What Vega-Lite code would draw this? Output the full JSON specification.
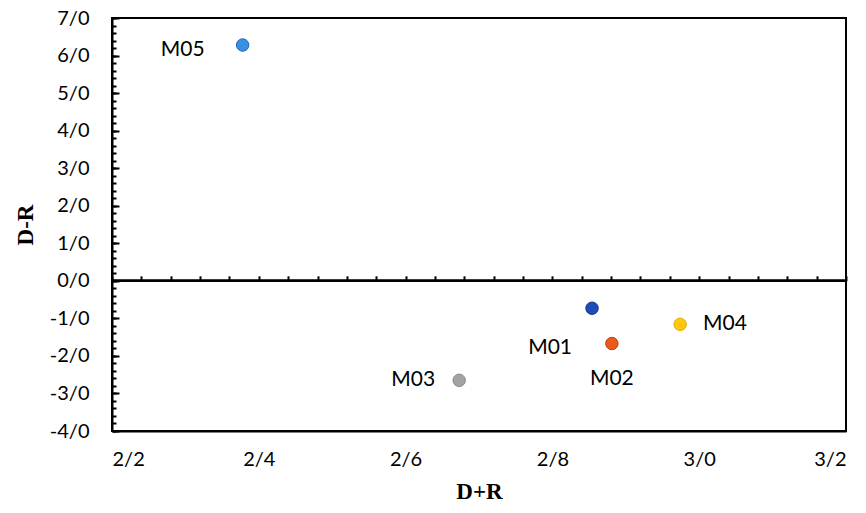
{
  "$schema": "https://vega.github.io/schema/vega-lite/v6.json",
  "width": 734,
  "height": 413,
  "autosize": {"type": "none"},
  "padding": {"left": 112, "top": 18, "right": 20, "bottom": 82},
  "background": "white",
  "data": {
    "values": [
      {"model": "M01", "dr_sum": 2.854, "dr_diff": -0.73},
      {"model": "M02", "dr_sum": 2.881, "dr_diff": -1.67},
      {"model": "M03", "dr_sum": 2.673, "dr_diff": -2.65},
      {"model": "M04", "dr_sum": 2.974, "dr_diff": -1.16},
      {"model": "M05", "dr_sum": 2.378, "dr_diff": 6.28}
    ]
  },
  "layer": [
    {
      "mark": {"type": "point", "filled": true, "size": 155, "opacity": 1, "strokeWidth": 1},
      "encoding": {
        "x": {
          "field": "dr_sum",
          "type": "quantitative",
          "scale": {"domain": [2.2, 3.2], "nice": false, "zero": false},
          "axis": {
            "orient": "bottom",
            "values": [2.2, 2.4, 2.6, 2.8, 3.0, 3.2],
            "labelExpr": "replace(format(datum.value, '.1f'), '.', '/')",
            "ticks": false,
            "grid": false,
            "domainColor": "black",
            "domainWidth": 2,
            "labelPadding": 18,
            "labelFont": "Lato",
            "labelFontSize": 20,
            "labelColor": "black",
            "title": "D+R",
            "titleFont": "Liberation Serif",
            "titleFontSize": 23,
            "titleFontWeight": "bold",
            "titleColor": "black",
            "titlePadding": 11
          }
        },
        "y": {
          "field": "dr_diff",
          "type": "quantitative",
          "scale": {"domain": [-4, 7], "nice": false, "zero": false},
          "axis": {
            "orient": "left",
            "values": [-4, -3, -2, -1, 0, 1, 2, 3, 4, 5, 6, 7],
            "labelExpr": "replace((datum.value < 0 ? '-' : '') + format(abs(datum.value), '.1f'), '.', '/')",
            "tickSize": -7,
            "tickWidth": 2,
            "tickColor": "black",
            "grid": false,
            "domainColor": "black",
            "domainWidth": 2,
            "labelPadding": 30,
            "labelFont": "Lato",
            "labelFontSize": 20,
            "labelColor": "black",
            "title": "D-R",
            "titleFont": "Liberation Serif",
            "titleFontSize": 23,
            "titleFontWeight": "bold",
            "titleColor": "black",
            "titlePadding": 12
          }
        },
        "color": {
          "field": "model",
          "type": "nominal",
          "scale": {"domain": ["M01", "M02", "M03", "M04", "M05"], "range": ["#1f4bb8", "#ea5a1c", "#a3a3a3", "#ffc80f", "#3a8fe0"]},
          "legend": null
        },
        "stroke": {
          "field": "model",
          "type": "nominal",
          "scale": {"domain": ["M01", "M02", "M03", "M04", "M05"], "range": ["#15338a", "#c0400e", "#888888", "#e8a800", "#1f66b8"]},
          "legend": null
        }
      }
    },
    {
      "mark": {"type": "rule", "color": "black", "strokeWidth": 2},
      "encoding": {
        "y": {
          "datum": 0,
          "type": "quantitative",
          "axis": {
            "orient": "left",
            "values": [-4, -3.8, -3.6, -3.4, -3.2, -3, -2.8, -2.6, -2.4, -2.2, -2, -1.8, -1.6, -1.4, -1.2, -1, -0.8, -0.6, -0.4, -0.2, 0, 0.2, 0.4, 0.6, 0.8, 1, 1.2, 1.4, 1.6, 1.8, 2, 2.2, 2.4, 2.6, 2.8, 3, 3.2, 3.4, 3.6, 3.8, 4, 4.2, 4.4, 4.6, 4.8, 5, 5.2, 5.4, 5.6, 5.8, 6, 6.2, 6.4, 6.6, 6.8, 7],
            "labels": false,
            "domain": false,
            "grid": false,
            "tickSize": -4,
            "tickWidth": 2,
            "tickColor": "black",
            "title": null
          }
        }
      }
    },
    {
      "transform": [{"filter": "datum.model == 'M05'"}],
      "mark": {"type": "text", "align": "right", "baseline": "middle", "dx": -38, "dy": 5, "font": "Lato", "fontSize": 21, "color": "black"},
      "encoding": {
        "x": {
          "field": "dr_sum",
          "type": "quantitative",
          "axis": {
            "orient": "top",
            "offset": {"expr": "-scale('y', 0)"},
            "values": [2.2, 2.24, 2.28, 2.32, 2.36, 2.4, 2.44, 2.48, 2.52, 2.56, 2.6, 2.64, 2.68, 2.72, 2.76, 2.8, 2.84, 2.88, 2.92, 2.96, 3.0, 3.04, 3.08, 3.12, 3.16, 3.2],
            "labels": false,
            "domain": false,
            "grid": false,
            "tickSize": 5,
            "tickWidth": 2,
            "tickColor": "black",
            "title": null
          }
        },
        "y": {"field": "dr_diff", "type": "quantitative", "axis": null},
        "text": {"field": "model"}
      }
    },
    {
      "transform": [{"filter": "datum.model == 'M03'"}],
      "mark": {"type": "text", "align": "right", "baseline": "middle", "dx": -24, "font": "Lato", "fontSize": 21, "color": "black"},
      "encoding": {
        "x": {"field": "dr_sum", "type": "quantitative", "axis": null},
        "y": {"field": "dr_diff", "type": "quantitative", "axis": null},
        "text": {"field": "model"}
      }
    },
    {
      "transform": [{"filter": "datum.model == 'M01'"}],
      "mark": {"type": "text", "align": "right", "baseline": "middle", "dx": -20, "dy": 40, "font": "Lato", "fontSize": 21, "color": "black"},
      "encoding": {
        "x": {"field": "dr_sum", "type": "quantitative", "axis": null},
        "y": {"field": "dr_diff", "type": "quantitative", "axis": null},
        "text": {"field": "model"}
      }
    },
    {
      "transform": [{"filter": "datum.model == 'M02'"}],
      "mark": {"type": "text", "align": "center", "baseline": "middle", "dy": 35, "font": "Lato", "fontSize": 21, "color": "black"},
      "encoding": {
        "x": {"field": "dr_sum", "type": "quantitative", "axis": null},
        "y": {"field": "dr_diff", "type": "quantitative", "axis": null},
        "text": {"field": "model"}
      }
    },
    {
      "transform": [{"filter": "datum.model == 'M04'"}],
      "mark": {"type": "text", "align": "left", "baseline": "middle", "dx": 23, "font": "Lato", "fontSize": 21, "color": "black"},
      "encoding": {
        "x": {"field": "dr_sum", "type": "quantitative", "axis": null},
        "y": {"field": "dr_diff", "type": "quantitative", "axis": null},
        "text": {"field": "model"}
      }
    }
  ],
  "resolve": {"axis": {"x": "independent", "y": "independent"}},
  "config": {
    "view": {"stroke": "black", "strokeWidth": 2}
  }
}
